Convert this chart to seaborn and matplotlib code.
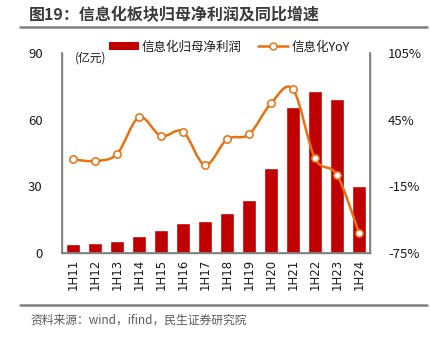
import numpy as np
import pandas as pd
import matplotlib
matplotlib.use("Agg")
import matplotlib.pyplot as plt
from matplotlib.path import Path
from matplotlib.patches import PathPatch, Patch
from matplotlib.lines import Line2D
import seaborn as sns

# Half-year periods
periods = ["1H11", "1H12", "1H13", "1H14", "1H15", "1H16", "1H17",
           "1H18", "1H19", "1H20", "1H21", "1H22", "1H23", "1H24"]
# Net profit attributable to parent (100 million CNY)
net_profit = [4.1, 4.5, 5.4, 7.8, 10.2, 13.6, 14.4,
              18.2, 24.0, 38.1, 65.8, 72.8, 69.4, 30.3]
# Year-over-year growth (%)
yoy = [9.3, 7.8, 14.1, 47.1, 30.3, 34.2, 4.2,
       27.3, 31.8, 59.7, 72.3, 10.2, -4.8, -56.7]

left_ticks = [0, 30, 60, 90]
right_ticks = [-75, -15, 45, 105]

BAR_RED = "#C00000"
LINE_ORANGE = "#E8700F"
TEXT = "#1a1a1a"
GRAY = "#808080"

sns.set_theme(style="white")
plt.rcParams["font.family"] = ["Noto Sans CJK SC", "DejaVu Sans"]
plt.rcParams["axes.unicode_minus"] = False

W, H = 431, 339
fig = plt.figure(figsize=(W / 100, H / 100), dpi=100)
ax = fig.add_axes([62 / W, 1 - 253 / H, 308 / W, 200 / H])

df = pd.DataFrame({"period": periods, "profit": net_profit})
sns.barplot(data=df, x="period", y="profit", color=BAR_RED, width=0.6,
            saturation=1, ax=ax)
ax.set_xlim(-0.5, len(periods) - 0.5)
ax.set_ylim(0, 90)
ax.set_yticks(left_ticks)
ax.set_xlabel("")
ax.set_ylabel("")
ax.tick_params(axis="y", length=0, labelsize=9.5, colors=TEXT, pad=14)
ax.tick_params(axis="x", length=0, labelsize=8.5, colors=TEXT, rotation=90, pad=4)
for lab in ax.get_xticklabels():
    lab.set_fontfamily("DejaVu Sans")

for side in ["left", "right", "bottom"]:
    ax.spines[side].set_color(GRAY)
    ax.spines[side].set_linewidth(1.0)
ax.spines["top"].set_visible(False)

ax2 = ax.twinx()
ax2.set_ylim(-75, 105)
ax2.set_yticks(right_ticks)
ax2.set_yticklabels([f"{t}%" for t in right_ticks])
ax2.tick_params(axis="y", length=0, labelsize=9.5, colors=TEXT, pad=13)
for side in ["left", "right", "bottom"]:
    ax2.spines[side].set_color(GRAY)
ax2.spines["top"].set_visible(False)

# Smoothed YoY curve: Catmull-Rom segments converted to cubic Bezier
xs = np.arange(len(yoy), dtype=float)
ys = np.array(yoy, dtype=float)
pts = np.column_stack([xs, ys])
verts = [tuple(pts[0])]
codes = [Path.MOVETO]
n = len(pts)
for i in range(n - 1):
    p0 = pts[i - 1] if i > 0 else pts[i]
    p1 = pts[i]
    p2 = pts[i + 1]
    p3 = pts[i + 2] if i + 2 < n else pts[i + 1]
    c1 = p1 + (p2 - p0) / 6.0
    c2 = p2 - (p3 - p1) / 6.0
    verts += [tuple(c1), tuple(c2), tuple(p2)]
    codes += [Path.CURVE4, Path.CURVE4, Path.CURVE4]
ax2.add_patch(PathPatch(Path(verts, codes), facecolor="none",
                        edgecolor=LINE_ORANGE, linewidth=1.8, zorder=3))
sns.scatterplot(x=xs, y=ys, ax=ax2, marker="o", s=28, color="white",
                edgecolor=LINE_ORANGE, linewidth=1.1, zorder=4, legend=False)

ax.text(13 / 308, 0.975, "(亿元)", transform=ax.transAxes, ha="left",
        va="center", fontsize=8.5, color=TEXT)

handles = [Patch(facecolor=BAR_RED, edgecolor="none"),
           Line2D([0], [0], color=LINE_ORANGE, linewidth=1.8, marker="o",
                  markersize=5, markerfacecolor="white",
                  markeredgecolor=LINE_ORANGE)]
fig.legend(handles, ["信息化归母净利润", "信息化YoY"], loc="center",
           bbox_to_anchor=(229 / W, 1 - 47 / H), ncol=2, frameon=False,
           fontsize=9, handlelength=2.4, handleheight=0.6,
           columnspacing=1.3, handletextpad=0.25, labelcolor=TEXT)

# Title and separators
fig.text(29 / W, 1 - 15 / H, "图19：信息化板块归母净利润及同比增速",
         ha="left", va="center", fontsize=11.5, fontweight="bold",
         color="#3a3a3a")
fig.add_artist(Line2D([20 / W, 427 / W], [1 - 27 / H, 1 - 27 / H],
                      color=GRAY, linewidth=1.8))
fig.add_artist(Line2D([20 / W, 427 / W], [1 - 305 / H, 1 - 305 / H],
                      color=GRAY, linewidth=1.8))
fig.text(30 / W, 1 - 320 / H, "资料来源：wind，ifind，民生证券研究院",
         ha="left", va="center", fontsize=8.5, color="#595959")

fig.savefig("out.png", dpi=100)
